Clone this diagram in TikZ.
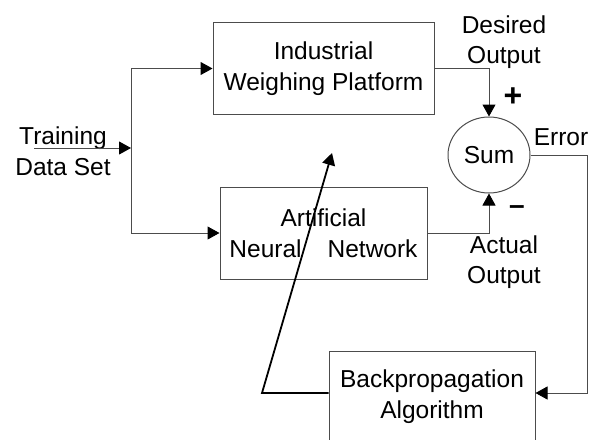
\documentclass[tikz,border=0pt]{standalone}
\usepackage{fontspec}
\setmainfont{Liberation Sans}
\usetikzlibrary{arrows.meta,shapes.geometric}

\begin{document}
\begin{tikzpicture}[x=1pt,y=-1pt,
        line width=1pt,
        tip/.style={-{Triangle[length=12pt,width=13pt,color=black]}}]

        \useasboundingbox (0,0) rectangle (596,439);

        \begin{scope}[every node/.style={draw=black!70,align=center,font=\fontsize{24.5}{31}\selectfont}]
            \node[minimum width=221,minimum height=92] (iwp) at (323.5,68.5) {Industrial\\Weighing Platform};
            \node[minimum width=207,minimum height=92] (ann) at (323.5,233) {Artificial\\Neural\hspace{26pt}Network};
            \node[ellipse,minimum width=82,minimum height=76,inner sep=0pt] (sum) at (489,155) {Sum};
            \node[minimum width=206,minimum height=90] (bp) at (432,396.5) {Backpropagation\\Algorithm};
        \end{scope}

        \begin{scope}[every node/.style={align=center,font=\fontsize{24.5}{30.5}\selectfont}]
            \node (train) at (63,151) {Training\\Data Set};
            \node (desired) at (504,42) {Desired\\Output};
            \node (actual) at (504,262) {Actual\\Output};
            \node (error) at (561,137) {Error};
            \node[font=\fontsize{32}{32}\selectfont\bfseries] (plus) at (513,97) {+};
            \node[font=\fontsize{28}{28}\selectfont\bfseries] (minus) at (517,210) {--};
        \end{scope}

        \coordinate (trainin) at (34,148);
        \coordinate (split) at (131,148);
        \coordinate (errturn) at (587,393);
        \coordinate (fbturn) at (262,393);
        \coordinate (fbtip) at (332,153);

        \begin{scope}[draw=black!70]
            \draw [tip] (trainin) -- (split);
            \draw (split |- iwp.west) -- (split |- ann.west);
            \draw [tip] (split |- iwp.west) -- (iwp.west);
            \draw [tip] (split |- ann.west) -- (ann.west);

            \draw [tip] (iwp.east) -| (sum.north);
            \draw [tip] (ann.east) -| (sum.south);

            \draw [tip] (sum.east) -| (errturn) -- (errturn -| bp.east);
        \end{scope}

        \draw [tip,draw=black,line width=1.8pt] (fbturn -| bp.west) -- (fbturn) -- (fbtip);

\end{tikzpicture}
\end{document}
